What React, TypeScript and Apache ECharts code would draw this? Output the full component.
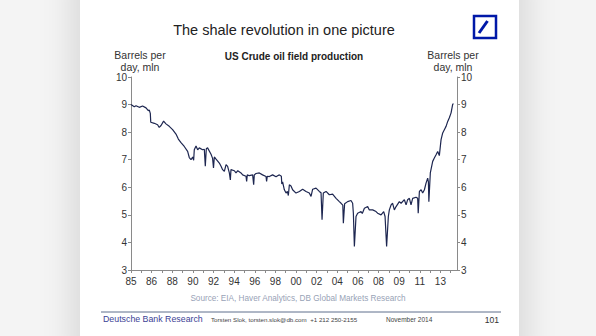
import React, { useEffect, useRef } from "react";
import * as echarts from "echarts";

// Months since Jan 1985 (time position of each reading)
const months = [0,3.6,5.5,9.1,12.7,16.5,19,20.1,21.2,21.7,
25.6,29.2,31,33,35.8,38.4,42,45.7,49.4,52,
54.9,58.5,62.2,64,65.9,67.7,68.8,69.5,71.4,73.2,
75,78.6,80.5,81.6,82.7,84.1,87.9,89.6,90.6,91.5,
93.4,97,98.9,100.6,102.5,104.4,106.1,108,109.1,109.8,
113.5,115.3,117.3,120.8,122.6,126.3,127,127.7,129.9,133.6,
134.7,135.4,137.3,140.9,144.5,148.3,148.9,149.7,151.9,155.5,
159.3,161,162.9,165.1,165.6,166.5,168.4,170.3,171.7,172.8,
173.9,175.7,177.5,181.2,184.9,188.5,192.2,195.8,197.7,199.5,
203.2,206.8,208.7,209.8,211.2,214.2,217.8,221.4,225.2,228.8,
230.7,232.6,233.2,234.6,237.9,241.6,243.4,244.2,245.3,247.1,
248.9,252.6,254,256.3,259.9,261.7,265.4,269.1,270.8,274.6,
277.5,279,280.7,282.6,283.7,285.6,287.3,289.2,291.1,294.7,
296.6,300.2,302.1,303.8,305.7,307.5,309.3,313,314.8,315.4,
316.7,318.6,320.3,322.2,324,325.8,326.6,327.1,328.7,331.3,
333.1,335,336.8,338.6,340.5,342.3,344.1,346,347.8,349.6,
351.5,353.2,354];

// US crude oil field production, mln barrels per day
const production = [9.0,8.92,8.96,8.9,8.95,8.88,8.78,8.8,8.68,8.36,
8.32,8.27,8.17,8.24,8.4,8.3,8.21,8.09,7.93,7.75,
7.62,7.48,7.3,7.08,7.0,7.1,6.98,7.36,7.5,7.36,
7.43,7.36,7.38,6.76,7.4,7.43,7.2,7.05,6.7,7.1,
7.02,6.88,6.76,6.64,6.58,6.82,6.76,6.52,6.27,6.64,
6.6,6.52,6.6,6.52,6.45,6.4,6.21,6.45,6.42,6.45,
6.09,6.45,6.5,6.52,6.45,6.39,6.21,6.4,6.39,6.45,
6.38,6.42,6.45,6.4,6.12,6.2,5.91,5.79,5.85,5.7,
6.09,6.05,5.91,5.79,5.85,5.93,5.85,5.79,5.67,5.93,
5.97,5.85,5.8,4.82,5.79,5.85,5.73,5.75,5.6,5.48,
5.42,5.35,4.7,5.4,5.48,5.52,5.42,5.06,3.85,4.94,
5.06,5.12,5.05,5.24,5.3,5.18,5.18,5.12,5.06,5.0,
5.12,4.94,3.85,4.94,5.18,5.36,5.42,5.18,5.3,5.48,
5.42,5.55,5.36,5.55,5.6,5.36,5.6,5.64,5.6,5.06,
5.85,5.91,5.79,5.91,6.15,6.33,6.2,5.48,6.52,6.94,
7.06,7.18,7.3,7.15,7.73,7.97,8.09,8.21,8.39,8.52,
8.7,9.0,9.04];

const xLabels = ["85","86","88","90","92","94","96","98","00","02","04","06","08","09","11","13"];
const yMin = 3;
const yMax = 10;
const labelStep = 22.65; // months between two x labels
const xMax = 358;

const FONT = "'Liberation Sans', Arial, sans-serif";

export default function App() {
  const ref = useRef<HTMLDivElement>(null);

  useEffect(() => {
    if (!ref.current) return;
    const chart = echarts.init(ref.current, undefined, { renderer: "svg" });
    const axisColor = "#8a8a8a";
    const labelColor = "#333";
    chart.setOption({
      animation: false,
      backgroundColor: "transparent",
      grid: { left: 131, right: 139, top: 77, bottom: 66, containLabel: false },
      xAxis: {
        type: "value",
        min: 0,
        max: xMax,
        interval: labelStep / 2,
        axisLine: { show: true, lineStyle: { color: axisColor, width: 1 } },
        axisTick: { show: true, length: 3, lineStyle: { color: axisColor } },
        splitLine: { show: false },
        axisLabel: {
          color: labelColor,
          fontFamily: FONT,
          fontSize: 10,
          margin: 6,
          showMaxLabel: false,
          formatter: (v: number) => {
            const i = Math.round(v / labelStep);
            if (Math.abs(v - i * labelStep) < 0.5 && i < xLabels.length) return xLabels[i];
            return "";
          },
        },
      },
      yAxis: [
        {
          type: "value",
          position: "left",
          min: yMin,
          max: yMax,
          interval: 1,
          axisLine: { show: true, lineStyle: { color: axisColor } },
          axisTick: { show: true, length: 3, lineStyle: { color: axisColor } },
          splitLine: { show: false },
          axisLabel: { color: labelColor, fontFamily: FONT, fontSize: 10, margin: 4 },
        },
        {
          type: "value",
          position: "right",
          min: yMin,
          max: yMax,
          interval: 1,
          axisLine: { show: true, lineStyle: { color: axisColor } },
          axisTick: { show: true, length: 3, lineStyle: { color: axisColor } },
          splitLine: { show: false },
          axisLabel: { color: labelColor, fontFamily: FONT, fontSize: 10, margin: 4 },
        },
      ],
      series: [
        {
          type: "line",
          yAxisIndex: 0,
          showSymbol: false,
          symbol: "none",
          lineStyle: { color: "#1d2650", width: 1.2 },
          data: months.map((m, i) => [m, production[i]]),
        },
      ],
      graphic: [
        {
          type: "text",
          style: {
            text: "The shale revolution in one picture",
            x: 284, y: 30, align: "center", verticalAlign: "middle",
            fontSize: 14.5, fontFamily: FONT, fill: "#222",
          },
        },
        {
          type: "text",
          style: {
            text: "US Crude oil field production",
            x: 294, y: 56, align: "center", verticalAlign: "middle",
            fontSize: 10, fontWeight: "bold", fontFamily: FONT, fill: "#222",
          },
        },
        {
          type: "text",
          style: {
            text: "Barrels per\nday, mln",
            x: 140, y: 60.5, align: "center", verticalAlign: "middle",
            fontSize: 10.5, lineHeight: 12, fontFamily: FONT, fill: "#333",
          },
        },
        {
          type: "text",
          style: {
            text: "Barrels per\nday, mln",
            x: 453, y: 60.5, align: "center", verticalAlign: "middle",
            fontSize: 10.5, lineHeight: 12, fontFamily: FONT, fill: "#333",
          },
        },
        {
          type: "text",
          style: {
            text: "Source: EIA, Haver Analytics, DB Global Markets Research",
            x: 298, y: 298, align: "center", verticalAlign: "middle",
            fontSize: 8.2, fontFamily: FONT, fill: "#98a2b6",
          },
        },
        {
          type: "line",
          shape: { x1: 101, y1: 312, x2: 501, y2: 312 },
          style: { stroke: "#5f6f8c", lineWidth: 1 },
        },
        {
          type: "text",
          style: {
            text: "Deutsche Bank Research",
            x: 103, y: 319, align: "left", verticalAlign: "middle",
            fontSize: 8.8, fontFamily: FONT, fill: "#3c3f95",
          },
        },
        {
          type: "text",
          style: {
            text: "Torsten Slok, torsten.slok@db.com  +1 212 250-2155",
            x: 211, y: 319.5, align: "left", verticalAlign: "middle",
            fontSize: 6.2, fontFamily: FONT, fill: "#444",
          },
        },
        {
          type: "text",
          style: {
            text: "November 2014",
            x: 386, y: 319.5, align: "left", verticalAlign: "middle",
            fontSize: 6.5, fontFamily: FONT, fill: "#444",
          },
        },
        {
          type: "text",
          style: {
            text: "101",
            x: 499, y: 319.5, align: "right", verticalAlign: "middle",
            fontSize: 8.6, fontFamily: FONT, fill: "#333",
          },
        },
        {
          type: "rect",
          shape: { x: 474, y: 16, width: 22, height: 22 },
          style: { fill: "#fff", stroke: "#0018a8", lineWidth: 2.5 },
        },
        {
          type: "line",
          shape: { x1: 479, y1: 33, x2: 487.5, y2: 21 },
          style: { stroke: "#0018a8", lineWidth: 3 },
        },
      ],
    });
    return () => chart.dispose();
  }, []);

  return (
    <div
      style={{
        position: "fixed",
        left: 0,
        top: 0,
        width: 596,
        height: 336,
        background: "#f4f4f4",
        overflow: "hidden",
      }}
    >
      <div
        style={{
          position: "absolute",
          left: 80,
          top: -20,
          width: 439,
          height: 376,
          background: "#ffffff",
          boxShadow: "0 0 28px 10px rgba(0,0,0,0.10)",
        }}
      />
      <div ref={ref} style={{ position: "absolute", left: 0, top: 0, width: 596, height: 336 }} />
    </div>
  );
}
